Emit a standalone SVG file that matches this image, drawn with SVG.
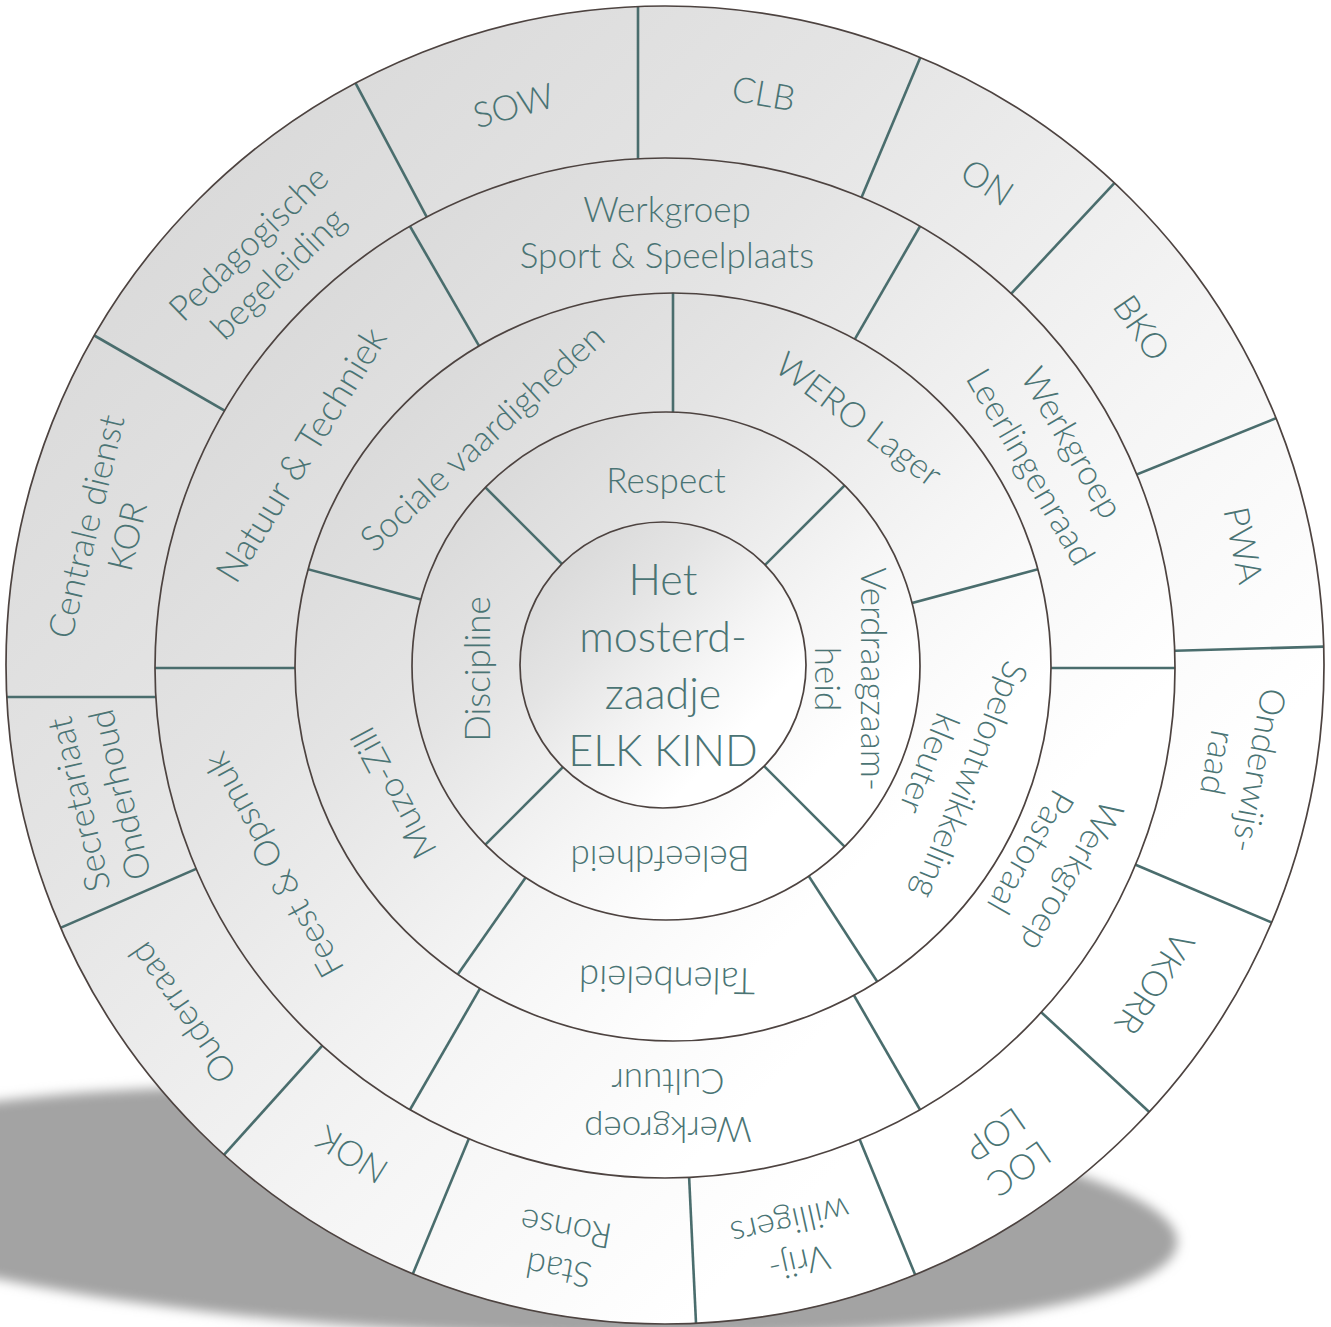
<svg xmlns="http://www.w3.org/2000/svg" width="1331" height="1327" viewBox="0 0 1331 1327">
<defs>
<linearGradient id="shade" x1="0.1" y1="0.1" x2="0.9" y2="0.9">
<stop offset="0" stop-color="#d8d8d8"/>
<stop offset="0.3" stop-color="#e4e4e4"/>
<stop offset="0.6" stop-color="#f5f5f5"/>
<stop offset="0.82" stop-color="#ffffff"/>
</linearGradient>
<filter id="blur" x="-10%" y="-50%" width="120%" height="200%"><feGaussianBlur stdDeviation="6"/></filter>
<clipPath id="c5"><path clip-rule="evenodd" d="M6,665 a659,659 0 1,0 1318,0 a659,659 0 1,0 -1318,0 Z M155,668 a510,510 0 1,0 1020,0 a510,510 0 1,0 -1020,0 Z"/></clipPath>
<clipPath id="c4"><path clip-rule="evenodd" d="M155,668 a510,510 0 1,0 1020,0 a510,510 0 1,0 -1020,0 Z M295,667 a378,374 0 1,0 756,0 a378,374 0 1,0 -756,0 Z"/></clipPath>
<clipPath id="c3"><path clip-rule="evenodd" d="M295,667 a378,374 0 1,0 756,0 a378,374 0 1,0 -756,0 Z M412,666 a254,254 0 1,0 508,0 a254,254 0 1,0 -508,0 Z"/></clipPath>
<clipPath id="c2"><path clip-rule="evenodd" d="M412,666 a254,254 0 1,0 508,0 a254,254 0 1,0 -508,0 Z M520,665 a143,143 0 1,0 286,0 a143,143 0 1,0 -286,0 Z"/></clipPath>
</defs>
<style>
.disc{fill:url(#shade);stroke:none}
.ring{fill:none;stroke:#4d4340;stroke-width:1.7}
.dv{stroke:#4a6d6d;stroke-width:2.6;fill:none}
text{font-family:Lato,"Open Sans","DejaVu Sans",sans-serif;font-weight:300;fill:#4a7474;text-anchor:middle;dominant-baseline:central;font-size:35px}
.big{font-size:43px}
</style>
<g id="shadow">
<ellipse cx="478" cy="1211" rx="700" ry="122" transform="rotate(2.6 478 1211)" fill="#a3a3a3" filter="url(#blur)"/>
</g>
<g id="fills">
<circle class="disc" cx="665" cy="665" r="659"/>
<circle class="disc" cx="665" cy="668" r="510"/>
<ellipse class="disc" cx="673" cy="667" rx="378" ry="374"/>
<circle class="disc" cx="666" cy="666" r="254"/>
<circle class="disc" cx="663" cy="665" r="143"/>
</g>
<g id="connectors">
<g clip-path="url(#c5)" class="dv">
<line x1="638" y1="0" x2="638" y2="200"/>
<line x1="665" y1="665" x2="928.5" y2="38.1"/>
<line x1="665" y1="665" x2="1128.8" y2="167.6"/>
<line x1="665" y1="665" x2="1295.5" y2="410.3"/>
<line x1="665" y1="665" x2="1344.7" y2="646"/>
<line x1="665" y1="665" x2="1290.9" y2="930.7"/>
<line x1="665" y1="665" x2="1164.7" y2="1126.2"/>
<line x1="665" y1="665" x2="923.1" y2="1294.1"/>
<line x1="665" y1="665" x2="697" y2="1344.3"/>
<line x1="665" y1="665" x2="404.8" y2="1293.3"/>
<line x1="665" y1="665" x2="210" y2="1170.3"/>
<line x1="665" y1="665" x2="41.4" y2="936.1"/>
<line x1="0" y1="697" x2="200" y2="697"/>
<line x1="665" y1="665" x2="76.1" y2="325"/>
<line x1="665" y1="665" x2="345.7" y2="64.6"/>
</g>
<g clip-path="url(#c4)" class="dv">
<line x1="665" y1="668" x2="1225" y2="668"/>
<line x1="665" y1="668" x2="945" y2="1153"/>
<line x1="665" y1="668" x2="385" y2="1153"/>
<line x1="665" y1="668" x2="105" y2="668"/>
<line x1="665" y1="668" x2="385" y2="183"/>
<line x1="665" y1="668" x2="945" y2="183"/>
</g>
<g clip-path="url(#c3)" class="dv">
<line x1="673" y1="667" x2="673" y2="247"/>
<line x1="673" y1="667" x2="1078.7" y2="558.3"/>
<line x1="673" y1="667" x2="901.7" y2="1019.3"/>
<line x1="673" y1="667" x2="432.1" y2="1011.1"/>
<line x1="673" y1="667" x2="267.3" y2="558.3"/>
</g>
<g clip-path="url(#c2)" class="dv">
<line x1="664" y1="666" x2="869.1" y2="460.9"/>
<line x1="664" y1="666" x2="869.1" y2="871.1"/>
<line x1="664" y1="666" x2="458.9" y2="871.1"/>
<line x1="664" y1="666" x2="458.9" y2="460.9"/>
</g>
</g>
<g id="rings">
<circle class="ring" cx="665" cy="665" r="659"/>
<circle class="ring" cx="665" cy="668" r="510"/>
<ellipse class="ring" cx="673" cy="667" rx="378" ry="374"/>
<circle class="ring" cx="666" cy="666" r="254"/>
<circle class="ring" cx="663" cy="665" r="143"/>
</g>
<g id="center"><text class="big" x="663"><tspan x="663" y="578">Het</tspan><tspan x="663" y="635">mosterd-</tspan><tspan x="663" y="692">zaadje</tspan><tspan x="663" y="749">ELK KIND</tspan></text></g>
<g id="respect"><text transform="translate(666,479)">Respect</text></g>
<g id="verdraagzaamheid"><text transform="translate(851.5,679) rotate(90)"><tspan x="0" y="-23">Verdraagzaam-</tspan><tspan x="0" y="23">heid</tspan></text></g>
<g id="beleefdheid"><text transform="translate(660,860) rotate(180)">Beleefdheid</text></g>
<g id="discipline"><text transform="translate(476,669) rotate(-90)">Discipline</text></g>
<g id="wero-lager"><text transform="translate(860,418) rotate(37)">WERO Lager</text></g>
<g id="spelontwikkeling"><text transform="translate(951.5,772.5) rotate(112)"><tspan x="0" y="-22">Spelontwikkeling</tspan><tspan x="0" y="22">kleuter</tspan></text></g>
<g id="talenbeleid"><text transform="translate(667,981) rotate(181)" style="font-size:36.5px">Talenbeleid</text></g>
<g id="muzo-zill"><text transform="translate(392,794) rotate(242)">Muzo-Zill</text></g>
<g id="sociale-vaardigheden"><text transform="translate(481,436.5) rotate(-42.5)">Sociale vaardigheden</text></g>
<g id="sport-speelplaats"><text transform="translate(667,231)"><tspan x="0" y="-23">Werkgroep</tspan><tspan x="0" y="23">Sport &amp; Speelplaats</tspan></text></g>
<g id="leerlingenraad"><text transform="translate(1053,454) rotate(60)"><tspan x="0" y="-24">Werkgroep</tspan><tspan x="0" y="24">Leerlingenraad</tspan></text></g>
<g id="pastoraal"><text transform="translate(1053,865) rotate(120)"><tspan x="0" y="-24">Werkgroep</tspan><tspan x="0" y="24">Pastoraal</tspan></text></g>
<g id="cultuur"><text transform="translate(668,1107) rotate(180)"><tspan x="0" y="-24">Werkgroep</tspan><tspan x="0" y="24">Cultuur</tspan></text></g>
<g id="feest-opsmuk"><text transform="translate(272,866) rotate(241)">Feest &amp; Opsmuk</text></g>
<g id="natuur-techniek"><text transform="translate(300,454) rotate(-58.5)" style="font-size:36.5px">Natuur &amp; Techniek</text></g>
<g id="sow"><text transform="translate(513,104) rotate(-15.5)">SOW</text></g>
<g id="clb"><text transform="translate(764,92) rotate(10)">CLB</text></g>
<g id="on"><text transform="translate(988,181) rotate(33)">ON</text></g>
<g id="bko"><text transform="translate(1143,327) rotate(55.5)">BKO</text></g>
<g id="pwa"><text transform="translate(1245,545) rotate(78)">PWA</text></g>
<g id="onderwijsraad"><text transform="translate(1240,767) rotate(100.7)"><tspan x="0" y="-21">Onderwijs-</tspan><tspan x="0" y="21">raad</tspan></text></g>
<g id="vkorr"><text transform="translate(1156,984) rotate(123)">VKORR</text></g>
<g id="loc-lop"><text transform="translate(1008,1153) rotate(145)"><tspan x="0" y="-21">LOC</tspan><tspan x="0" y="21">LOP</tspan></text></g>
<g id="vrijwilligers"><text transform="translate(795,1244) rotate(167.5)"><tspan x="0" y="-21">Vrij-</tspan><tspan x="0" y="21">willigers</tspan></text></g>
<g id="stad-ronse"><text transform="translate(562,1251) rotate(190)"><tspan x="0" y="-21">Stad</tspan><tspan x="0" y="21">Ronse</tspan></text></g>
<g id="nok"><text transform="translate(351,1156) rotate(212)">NOK</text></g>
<g id="ouderraad"><text transform="translate(181,1014) rotate(235.5)">Ouderraad</text></g>
<g id="secretariaat"><text transform="translate(97.5,800) rotate(257)"><tspan x="0" y="-21">Secretariaat</tspan><tspan x="0" y="21">Onderhoud</tspan></text></g>
<g id="centrale-dienst"><text transform="translate(105,531) rotate(-76.5)"><tspan x="0" y="-21">Centrale dienst</tspan><tspan x="0" y="21">KOR</tspan></text></g>
<g id="pedagogische"><text transform="translate(262,257) rotate(-44)"><tspan x="0" y="-21">Pedagogische</tspan><tspan x="0" y="21">begeleiding</tspan></text></g>
</svg>
